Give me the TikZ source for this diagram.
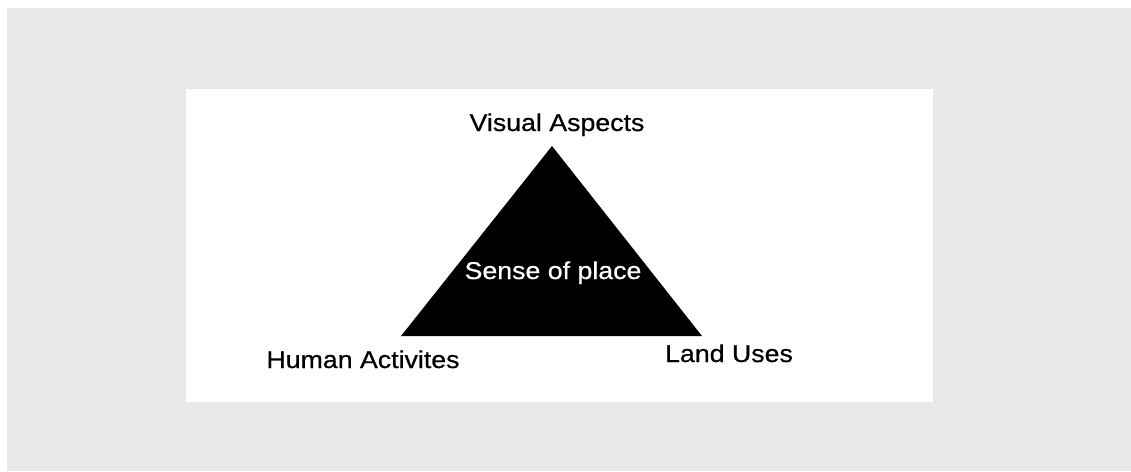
\documentclass[tikz,border=0pt]{standalone}
\usepackage{fontspec}
\setmainfont{Liberation Sans}[FakeStretch=1.1,FakeBold=0.6]
\definecolor{pagegray}{HTML}{E9E9E9}
\begin{document}
\begin{tikzpicture}[x=1pt,y=-1pt,
    label/.style={anchor=base,inner sep=0pt,font=\fontsize{24.3}{29}\selectfont}]
      \useasboundingbox (0,0) rectangle (1131,471);
      \fill[pagegray] (7,8) rectangle (1131,471);
      \fill[white] (186,89) rectangle (933,402);
      % triangle corners
      \coordinate (top) at (552,146);
      \coordinate (left) at (401,336);
      \coordinate (right) at (702,336);
      \fill[black] (top) -- (left) -- (right) -- cycle;
      \node[label] (visual) at (557,131) {Visual Aspects};
      \node[label,text=white] (sense) at (553,279) {Sense of place};
      \node[label] (human) at (363,368) {Human Activites};
      \node[label] (land) at (729,362) {Land Uses};
    \end{tikzpicture}
\end{document}
